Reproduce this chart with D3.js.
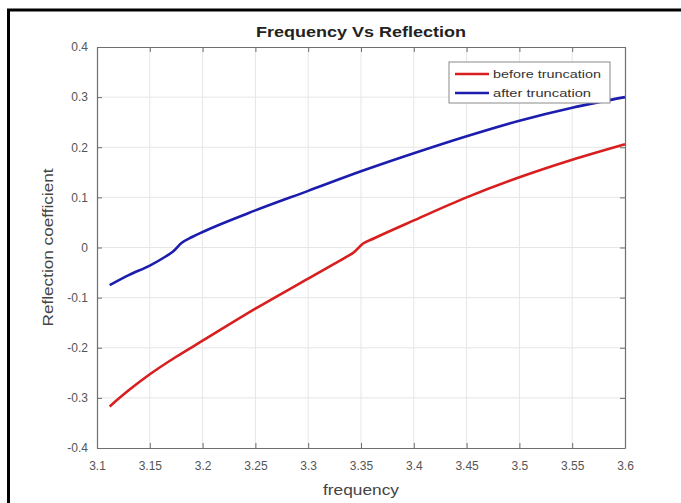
<!DOCTYPE html>
<html>
<head>
<meta charset="utf-8">
<script src="https://cdn.jsdelivr.net/npm/d3@7"></script>
<style>
  body { margin: 0; background: #fff; }
  svg { display: block; font-family: "Liberation Sans", Arial, sans-serif; }
</style>
</head>
<body>
<svg id="chart" width="681" height="503"></svg>
<script>
  // data
  var freq_before = [3.112, 3.13, 3.15, 3.175, 3.2, 3.25, 3.3, 3.325, 3.335, 3.343, 3.352, 3.362, 3.4, 3.45, 3.5, 3.55, 3.6];
  var refl_before = [-0.317, -0.285, -0.253, -0.218, -0.186, -0.122, -0.062, -0.032, -0.02, -0.01, 0.008, 0.018, 0.054, 0.1, 0.14, 0.175, 0.206];

  var freq_after = [3.112, 3.13, 3.15, 3.165, 3.172, 3.18, 3.19, 3.2, 3.25, 3.3, 3.35, 3.4, 3.45, 3.5, 3.55, 3.6];
  var refl_after = [-0.075, -0.055, -0.036, -0.018, -0.008, 0.009, 0.021, 0.031, 0.074, 0.113, 0.152, 0.188, 0.222, 0.253, 0.279, 0.3];

  var x_ticks = [3.1, 3.15, 3.2, 3.25, 3.3, 3.35, 3.4, 3.45, 3.5, 3.55, 3.6];
  var y_ticks = [-0.4, -0.3, -0.2, -0.1, 0, 0.1, 0.2, 0.3, 0.4];

  var series_names = ["before truncation", "after truncation"];
  var series_colors = ["#d81e1e", "#1c1cae"];

  var margin = {top: 47, right: 56, bottom: 55, left: 97};
  var width = 681, height = 503;
  var w = width - margin.left - margin.right;
  var h = height - margin.top - margin.bottom;

  var svg = d3.select("#chart");

  // outer black frame (open on right/bottom, as in the picture)
  svg.append("line").attr("x1", 8.5).attr("x2", 8.5).attr("y1", 9).attr("y2", height)
    .attr("stroke", "#000").attr("stroke-width", 3);
  svg.append("line").attr("x1", 7).attr("x2", width).attr("y1", 10).attr("y2", 10)
    .attr("stroke", "#000").attr("stroke-width", 3);

  var g = svg.append("g").attr("transform", "translate(" + margin.left + "," + margin.top + ")");

  var x = d3.scaleLinear().domain([3.1, 3.6]).range([0, w]);
  var y = d3.scaleLinear().domain([-0.4, 0.4]).range([h, 0]);

  // grid
  g.append("g").selectAll("line").data(x_ticks.slice(1, -1)).join("line")
    .attr("x1", d => x(d)).attr("x2", d => x(d)).attr("y1", 0).attr("y2", h)
    .attr("stroke", "#e6e6e6").attr("stroke-width", 1);
  g.append("g").selectAll("line").data(y_ticks.slice(1, -1)).join("line")
    .attr("y1", d => y(d)).attr("y2", d => y(d)).attr("x1", 0).attr("x2", w)
    .attr("stroke", "#e6e6e6").attr("stroke-width", 1);

  var fmt = d => d === 0 ? "0" : String(d);

  // axes, ticks inside like matlab
  var xb = g.append("g").attr("transform", "translate(0," + h + ")")
    .call(d3.axisBottom(x).tickValues(x_ticks).tickFormat(fmt).tickSizeInner(-5).tickSizeOuter(0).tickPadding(13));
  var xt = g.append("g")
    .call(d3.axisTop(x).tickValues(x_ticks).tickFormat("").tickSizeInner(-5).tickSizeOuter(0));
  var yl = g.append("g")
    .call(d3.axisLeft(y).tickValues(y_ticks).tickFormat(fmt).tickSizeInner(-5).tickSizeOuter(0).tickPadding(9));
  var yr = g.append("g").attr("transform", "translate(" + w + ",0)")
    .call(d3.axisRight(y).tickValues(y_ticks).tickFormat("").tickSizeInner(-5).tickSizeOuter(0));

  [xb, xt, yl, yr].forEach(function(a) {
    a.select(".domain").attr("stroke", "#6e6e6e").attr("stroke-width", 1.2);
    a.selectAll(".tick line").attr("stroke", "#6e6e6e");
    a.selectAll(".tick text").attr("fill", "#555").attr("font-size", 12)
      .attr("font-family", "Liberation Sans, Arial, sans-serif");
  });

  // lines
  var datasets = [
    freq_before.map((f, i) => ({f: f, r: refl_before[i]})),
    freq_after.map((f, i) => ({f: f, r: refl_after[i]}))
  ];
  var line = d3.line().x(d => x(d.f)).y(d => y(d.r)).curve(d3.curveMonotoneX);
  datasets.forEach(function(ds, i) {
    g.append("path").datum(ds)
      .attr("fill", "none")
      .attr("stroke", series_colors[i])
      .attr("stroke-width", 2.6)
      .attr("stroke-linejoin", "round")
      .attr("d", line);
  });

  // title and labels (picture is stretched a bit horizontally)
  svg.append("text").attr("x", margin.left + w / 2).attr("y", 37)
    .attr("text-anchor", "middle").attr("font-weight", "bold").attr("font-size", 15)
    .attr("textLength", 210).attr("lengthAdjust", "spacingAndGlyphs")
    .attr("fill", "#222").text("Frequency Vs Reflection");
  svg.append("text").attr("x", margin.left + w / 2).attr("y", 495)
    .attr("text-anchor", "middle").attr("font-size", 14).attr("fill", "#444")
    .attr("textLength", 76).attr("lengthAdjust", "spacingAndGlyphs").text("frequency");
  svg.append("text").attr("transform", "translate(53," + (margin.top + h / 2) + ") rotate(-90)")
    .attr("text-anchor", "middle").attr("font-size", 15).attr("fill", "#444")
    .attr("textLength", 158).attr("lengthAdjust", "spacingAndGlyphs").text("Reflection coefficient");

  // legend
  var leg = svg.append("g").attr("transform", "translate(449,62)");
  leg.append("rect").attr("width", 161).attr("height", 41)
    .attr("fill", "#fff").attr("stroke", "#8a8a8a").attr("stroke-width", 1);
  var leg_len = [108, 98];
  series_names.forEach(function(name, i) {
    var yy = 12 + i * 19;
    leg.append("line").attr("x1", 6).attr("x2", 40).attr("y1", yy).attr("y2", yy)
      .attr("stroke", series_colors[i]).attr("stroke-width", 2.6);
    leg.append("text").attr("x", 44).attr("y", yy + 4)
      .attr("font-size", 11).attr("fill", "#333")
      .attr("textLength", leg_len[i]).attr("lengthAdjust", "spacingAndGlyphs").text(name);
  });
</script>
</body>
</html>
